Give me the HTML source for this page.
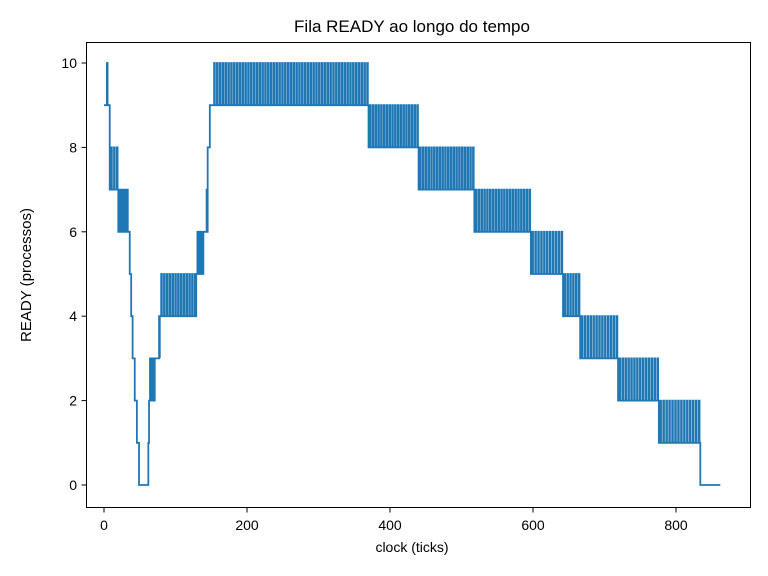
<!DOCTYPE html>
<html><head><meta charset="utf-8"><style>
body{margin:0;background:#fff}
svg{display:block;font-family:"Liberation Sans","DejaVu Sans",sans-serif}
</style></head><body>
<svg id="chart" width="768" height="576">
<rect width="768" height="576" fill="#fff"/>
<text x="412" y="32" text-anchor="middle" font-size="17">Fila READY ao longo do tempo</text>
<text x="412" y="552" text-anchor="middle" font-size="14">clock (ticks)</text>
<text transform="translate(31,275) rotate(-90)" text-anchor="middle" font-size="15">READY (processos)</text>
<g id="ticks"></g>
<path id="line" fill="none" stroke="#1f77b4" stroke-width="1.8" stroke-linejoin="miter"/>
<rect x="86.5" y="42.5" width="664" height="465" fill="none" stroke="#000" stroke-width="1"/>
</svg>
<script>
// segments: start tick, end tick, base level, spike level, number of spikes
const segStart = [0, 8, 20, 34, 36, 38, 40, 43, 46, 49, 62, 63, 71, 76, 78, 129, 139, 142, 145, 148, 152, 370, 440, 518, 597, 642, 666, 719, 776, 834];
const segEnd   = [8, 20, 34, 36, 38, 40, 43, 46, 49, 62, 63, 71, 76, 78, 129, 139, 142, 145, 148, 152, 370, 440, 518, 597, 642, 666, 719, 776, 834, 862];
const segBase  = [9, 7, 6, 6, 5, 4, 3, 2, 1, 0, 1, 2, 3, 3, 4, 5, 6, 6, 8, 9, 9, 8, 7, 6, 5, 4, 3, 2, 1, 0];
const segPeak  = [10, 8, 7, 6, 5, 4, 3, 2, 1, 0, 1, 3, 3, 4, 5, 6, 6, 7, 8, 9, 10, 9, 8, 7, 6, 5, 4, 3, 2, 0];
const segSpikes= [1, 3, 4, 0, 0, 0, 0, 0, 0, 0, 0, 3, 0, 1, 13, 3, 0, 1, 0, 0, 55, 18, 20, 20, 11, 6, 13, 14, 14, 0];
const xTicks = [0, 200, 400, 600, 800];
const yTicks = [0, 2, 4, 6, 8, 10];

const X = t => 104 + t * 0.715;
const Y = v => 485 - v * 42.2;
const NS = "http://www.w3.org/2000/svg";
let pts = [];
for (let i = 0; i < segStart.length; i++) {
  const s = segStart[i], e = segEnd[i], n = segSpikes[i];
  pts.push([s, segBase[i]]);
  for (let k = 0; k < n; k++) {
    const t = s + (e - s) * (k + 0.5) / n;
    pts.push([t, segBase[i]], [t, segPeak[i]], [t + 1, segPeak[i]], [t + 1, segBase[i]]);
  }
  pts.push([e, segBase[i]]);
  if (i + 1 < segStart.length) pts.push([e, segBase[i + 1]]);
}
document.getElementById('line').setAttribute('d', 'M' + pts.map(p => X(p[0]).toFixed(2) + ',' + Y(p[1]).toFixed(2)).join('L'));

const g = document.getElementById('ticks');
xTicks.forEach(v => {
  const l = document.createElementNS(NS, 'line');
  l.setAttribute('x1', X(v)); l.setAttribute('x2', X(v)); l.setAttribute('y1', 507.5); l.setAttribute('y2', 512.5);
  l.setAttribute('stroke', '#000');
  
  
  g.appendChild(l);
  const t = document.createElementNS(NS, 'text');
  t.setAttribute('x', X(v)); t.setAttribute('y', 530); t.setAttribute('text-anchor', 'middle'); t.setAttribute('font-size', '14');
  t.textContent = v;
  
  
  g.appendChild(t);
});
yTicks.forEach(v => {
  const l = document.createElementNS(NS, 'line');
  l.setAttribute('x1', 81.5); l.setAttribute('x2', 86.5); l.setAttribute('y1', Y(v)); l.setAttribute('y2', Y(v));
  l.setAttribute('stroke', '#000');
  
  
  g.appendChild(l);
  const t = document.createElementNS(NS, 'text');
  t.setAttribute('x', 77); t.setAttribute('y', Y(v) + 5); t.setAttribute('text-anchor', 'end'); t.setAttribute('font-size', '14');
  t.textContent = v;
  
  
  g.appendChild(t);
});
</script>
</body></html>
